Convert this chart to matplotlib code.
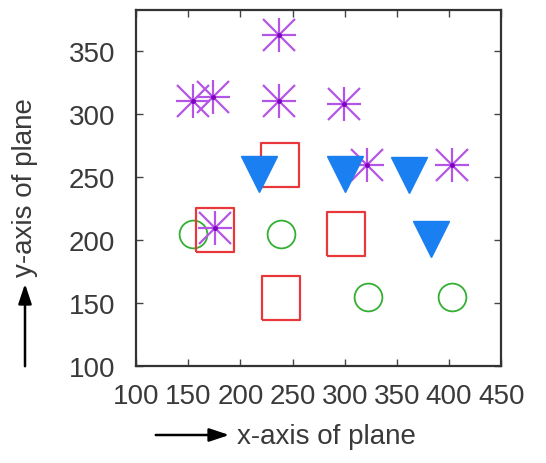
import matplotlib.pyplot as plt

# data
star_x = [237, 155, 174, 237, 299, 321, 403, 176]
star_y = [362, 310, 313, 310, 308, 259, 259, 209]
tri_x = [218, 300, 362, 383]
tri_y = [252, 252, 251, 201]
sq_x = [238, 176, 301, 239]
sq_y = [259, 208, 205, 154]
circ_x = [155, 239, 322, 403]
circ_y = [205, 205, 155, 155]

x_ticks = [100, 150, 200, 250, 300, 350, 400, 450]
y_ticks = [100, 150, 200, 250, 300, 350]

plt.rcParams['font.family'] = ['Liberation Sans', 'DejaVu Sans']

fig = plt.figure(figsize=(5.46, 4.64), dpi=100)
ax = fig.add_axes([0.249, 0.209, 0.669, 0.767])

# slightly tall rectangle, the picture is stretched a bit vertically
rect = [(-0.43, -0.5), (0.43, -0.5), (0.43, 0.5), (-0.43, 0.5), (-0.43, -0.5)]

ax.plot(circ_x, circ_y, 'o', ms=20, mfc='none', mec='#33b033', mew=1.3)
ax.plot(sq_x, sq_y, ls='none', marker=rect, ms=32, mfc='none', mec='#e8383c', mew=1.6)
ax.plot(star_x, star_y, '+', ms=25, mec='#b455e6', mew=1.6)
ax.plot(star_x, star_y, 'x', ms=23, mec='#b455e6', mew=1.6)
ax.plot(star_x, star_y, '.', ms=5, color='#8000c0')
ax.plot(tri_x, tri_y, 'v', ms=26, color='#1a7ff0')

ax.set_xlim(100, 450)
ax.set_ylim(100, 382)
ax.set_xticks(x_ticks)
ax.set_yticks(y_ticks)
ax.tick_params(direction='in', length=5, width=1, top=True, right=True,
               labelsize=20, labelcolor='#3a3a3a', color='#444444')
ax.tick_params(axis='x', pad=12)
ax.tick_params(axis='y', pad=15)
for s in ax.spines.values():
    s.set_linewidth(1.6)
    s.set_color('#333333')

arrow = dict(arrowstyle='-|>,head_length=1.2,head_width=0.4', color='black', lw=1.8)

# axis labels with arrows, placed in figure pixels
fig.text(0.434, 0.058, 'x-axis of plane', fontsize=20, color='#3a3a3a',
         ha='left', va='center')
ax.annotate('', xy=(232, 464 - 436), xycoords='figure pixels',
            xytext=(153, 464 - 436), textcoords='figure pixels', arrowprops=arrow)
fig.text(25 / 546, 1 - 188 / 464, 'y-axis of plane', fontsize=20, color='#3a3a3a',
         rotation=90, ha='center', va='center')
ax.annotate('', xy=(25, 464 - 282), xycoords='figure pixels',
            xytext=(25, 464 - 370), textcoords='figure pixels', arrowprops=arrow)

fig.savefig('out.png', dpi=100)
